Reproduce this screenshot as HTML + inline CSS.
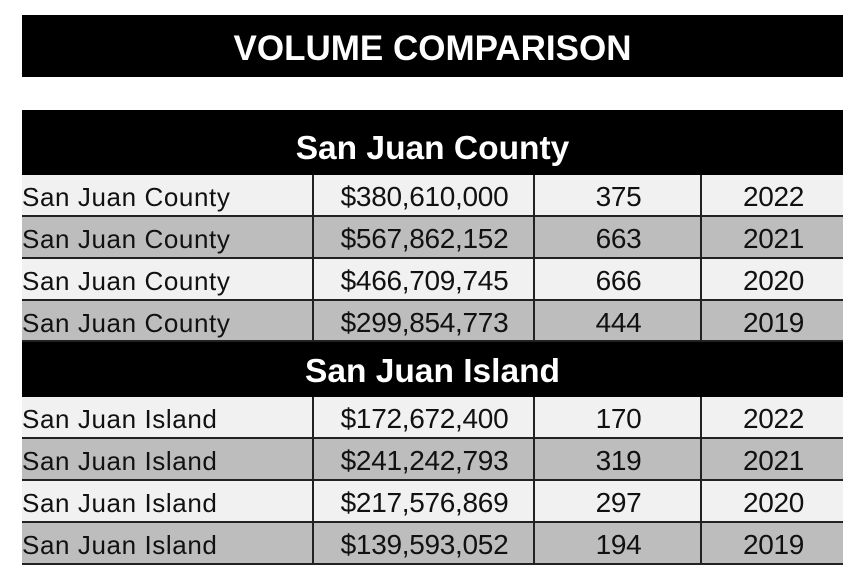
<!DOCTYPE html>
<html><head><meta charset="utf-8"><style>
body{margin:0;width:856px;height:582px;background:#fff;position:relative;overflow:hidden;font-family:"Liberation Sans",Arial,sans-serif}
.b{position:absolute;background:#000;color:#fff;font-weight:bold;text-align:center}
.r{position:absolute;left:22px;width:821px;height:42px;border-bottom:2px solid #222;box-sizing:border-box;font-size:28px;color:#111}
.r div{position:absolute;top:0;height:40px;line-height:44px;text-align:center;letter-spacing:-0.3px}
.l{background:#f1f1f1}.d{background:#bdbdbd}
.r .c0{left:0;width:290px;text-align:left;font-size:26px;letter-spacing:0.6px}
.c1{left:290px;width:221px;border-left:2px solid #222}
.c2{left:511px;width:167px;border-left:2px solid #222}
.c3{left:678px;width:143px;border-left:2px solid #222}
</style></head><body>
<div class="b" style="left:22px;top:15px;width:821px;height:62px;line-height:68px;font-size:35px">VOLUME COMPARISON</div>
<div class="b" style="left:22px;top:110px;width:821px;height:65px;line-height:78px;font-size:33.5px">San Juan County</div>
<div class="r l" style="top:175px"><div class="c0">San Juan County</div><div class="c1">$380,610,000</div><div class="c2">375</div><div class="c3">2022</div></div>
<div class="r d" style="top:217px"><div class="c0">San Juan County</div><div class="c1">$567,862,152</div><div class="c2">663</div><div class="c3">2021</div></div>
<div class="r l" style="top:259px"><div class="c0">San Juan County</div><div class="c1">$466,709,745</div><div class="c2">666</div><div class="c3">2020</div></div>
<div class="r d" style="top:301px;height:41px"><div class="c0">San Juan County</div><div class="c1">$299,854,773</div><div class="c2">444</div><div class="c3">2019</div></div>
<div class="b" style="left:22px;top:342px;width:821px;height:55px;line-height:60px;font-size:33.5px">San Juan Island</div>
<div class="r l" style="top:397px"><div class="c0">San Juan Island</div><div class="c1">$172,672,400</div><div class="c2">170</div><div class="c3">2022</div></div>
<div class="r d" style="top:439px"><div class="c0">San Juan Island</div><div class="c1">$241,242,793</div><div class="c2">319</div><div class="c3">2021</div></div>
<div class="r l" style="top:481px"><div class="c0">San Juan Island</div><div class="c1">$217,576,869</div><div class="c2">297</div><div class="c3">2020</div></div>
<div class="r d" style="top:523px"><div class="c0">San Juan Island</div><div class="c1">$139,593,052</div><div class="c2">194</div><div class="c3">2019</div></div>
</body></html>
